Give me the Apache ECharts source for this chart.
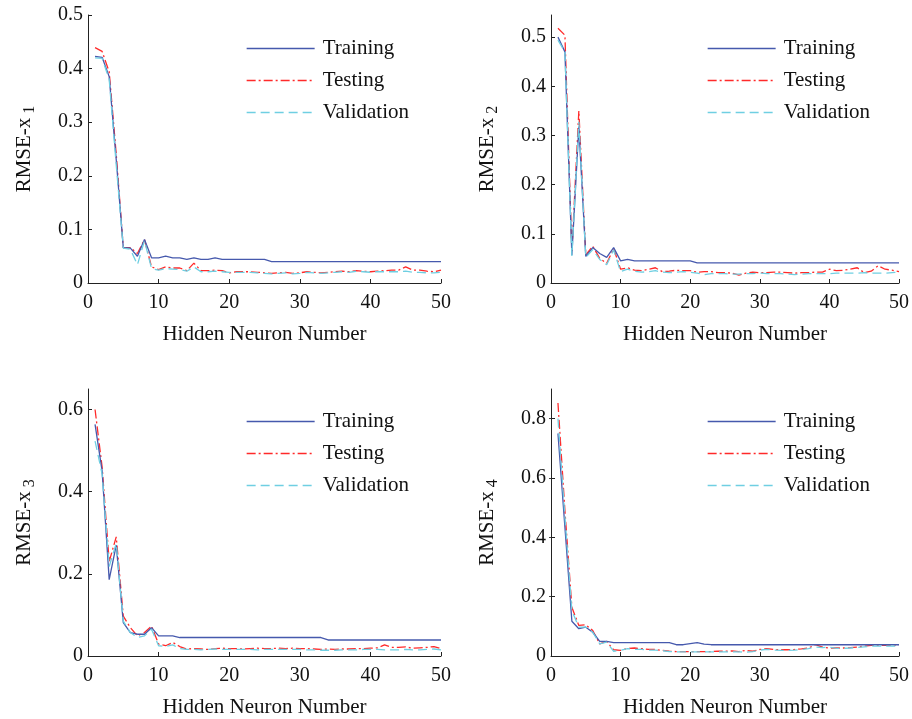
<!DOCTYPE html>
<html><head><meta charset="utf-8">
<script src="https://cdn.jsdelivr.net/npm/echarts@6/dist/echarts.min.js"></script>
<style>html,body{margin:0;padding:0;background:#fff}#c{width:912px;height:719px}</style>
</head><body><div id="c"></div>
<script>
var neurons = [1,2,3,4,5,6,7,8,9,10,11,12,13,14,15,16,17,18,19,20,21,22,23,24,25,26,27,28,29,30,31,32,33,34,35,36,37,38,39,40,41,42,43,44,45,46,47,48,49,50];
var seriesNames = ['Training','Testing','Validation'];
var yNames = ['1','2','3','4'];
var xTickLabels = [0,10,20,30,40,50];

var train1 = [0.423,0.421,0.385,0.23,0.066,0.065,0.05,0.081,0.047,0.047,0.05,0.047,0.047,0.044,0.047,0.044,0.044,0.047,0.044,0.044,0.044,0.044,0.044,0.044,0.044,0.04,0.04,0.04,0.04,0.04,0.04,0.04,0.04,0.04,0.04,0.04,0.04,0.04,0.04,0.04,0.04,0.04,0.04,0.04,0.04,0.04,0.04,0.04,0.04,0.04];
var test1 = [0.439,0.432,0.394,0.24,0.066,0.066,0.055,0.081,0.03,0.025,0.03,0.028,0.028,0.023,0.037,0.023,0.023,0.024,0.023,0.019,0.021,0.021,0.021,0.02,0.019,0.018,0.019,0.02,0.018,0.019,0.021,0.02,0.019,0.02,0.021,0.022,0.021,0.023,0.022,0.021,0.022,0.023,0.024,0.024,0.03,0.024,0.024,0.022,0.021,0.024];
var val1 = [0.42,0.419,0.38,0.22,0.065,0.063,0.034,0.079,0.027,0.024,0.027,0.026,0.025,0.022,0.03,0.021,0.021,0.022,0.021,0.02,0.02,0.02,0.02,0.019,0.018,0.017,0.018,0.019,0.017,0.018,0.02,0.019,0.018,0.019,0.02,0.021,0.02,0.022,0.021,0.02,0.021,0.021,0.021,0.021,0.022,0.02,0.02,0.019,0.019,0.02];

var train2 = [0.5,0.47,0.057,0.318,0.054,0.072,0.06,0.052,0.072,0.045,0.048,0.045,0.045,0.045,0.045,0.045,0.045,0.045,0.045,0.045,0.041,0.041,0.041,0.041,0.041,0.041,0.041,0.041,0.041,0.041,0.041,0.041,0.041,0.041,0.041,0.041,0.041,0.041,0.041,0.041,0.041,0.041,0.041,0.041,0.041,0.041,0.041,0.041,0.041,0.041];
var test2 = [0.518,0.504,0.065,0.35,0.057,0.075,0.05,0.04,0.07,0.028,0.031,0.026,0.025,0.028,0.031,0.023,0.024,0.026,0.025,0.025,0.022,0.023,0.023,0.021,0.021,0.02,0.016,0.02,0.022,0.021,0.021,0.022,0.022,0.021,0.02,0.021,0.021,0.022,0.022,0.028,0.025,0.026,0.028,0.031,0.021,0.024,0.035,0.028,0.026,0.023];
var val2 = [0.494,0.47,0.055,0.328,0.052,0.068,0.048,0.037,0.067,0.023,0.028,0.024,0.022,0.023,0.025,0.022,0.021,0.022,0.023,0.022,0.02,0.017,0.019,0.019,0.019,0.018,0.018,0.019,0.019,0.02,0.019,0.019,0.019,0.018,0.017,0.018,0.019,0.019,0.019,0.019,0.02,0.02,0.02,0.02,0.021,0.02,0.02,0.02,0.021,0.022];

var train3 = [0.564,0.45,0.186,0.27,0.081,0.057,0.053,0.053,0.069,0.049,0.049,0.049,0.045,0.045,0.045,0.045,0.045,0.045,0.045,0.045,0.045,0.045,0.045,0.045,0.045,0.045,0.045,0.045,0.045,0.045,0.045,0.045,0.045,0.039,0.039,0.039,0.039,0.039,0.039,0.039,0.039,0.039,0.039,0.039,0.039,0.039,0.039,0.039,0.039,0.039];
var test3 = [0.6,0.46,0.23,0.29,0.097,0.069,0.049,0.057,0.073,0.029,0.025,0.033,0.023,0.017,0.018,0.017,0.016,0.018,0.019,0.018,0.018,0.017,0.018,0.019,0.018,0.018,0.019,0.018,0.019,0.018,0.018,0.017,0.016,0.017,0.016,0.017,0.017,0.018,0.018,0.019,0.02,0.027,0.021,0.021,0.022,0.019,0.02,0.021,0.023,0.018];
var val3 = [0.523,0.443,0.218,0.274,0.085,0.057,0.045,0.049,0.065,0.025,0.023,0.027,0.018,0.016,0.016,0.015,0.016,0.017,0.016,0.016,0.016,0.016,0.016,0.015,0.016,0.016,0.016,0.016,0.016,0.016,0.015,0.015,0.014,0.014,0.014,0.015,0.015,0.015,0.016,0.016,0.016,0.015,0.015,0.015,0.016,0.015,0.015,0.016,0.017,0.015];

var train4 = [0.75,0.434,0.117,0.092,0.097,0.08,0.049,0.049,0.045,0.045,0.045,0.045,0.045,0.045,0.045,0.045,0.045,0.038,0.038,0.042,0.045,0.04,0.038,0.038,0.038,0.038,0.038,0.038,0.038,0.038,0.038,0.038,0.038,0.038,0.038,0.038,0.038,0.038,0.038,0.038,0.038,0.038,0.038,0.038,0.038,0.038,0.038,0.038,0.038,0.038];
var test4 = [0.853,0.49,0.164,0.103,0.105,0.086,0.041,0.049,0.021,0.019,0.025,0.027,0.025,0.022,0.022,0.019,0.016,0.015,0.015,0.015,0.015,0.015,0.015,0.016,0.016,0.017,0.015,0.019,0.016,0.022,0.025,0.022,0.021,0.021,0.022,0.024,0.027,0.038,0.03,0.027,0.027,0.027,0.028,0.03,0.033,0.036,0.036,0.036,0.036,0.038];
var val4 = [0.8,0.47,0.153,0.097,0.097,0.08,0.041,0.047,0.016,0.019,0.025,0.022,0.022,0.02,0.02,0.018,0.015,0.014,0.014,0.014,0.014,0.014,0.014,0.014,0.014,0.014,0.014,0.013,0.015,0.02,0.022,0.02,0.019,0.019,0.02,0.022,0.025,0.03,0.028,0.03,0.026,0.026,0.027,0.029,0.031,0.033,0.033,0.033,0.033,0.033];

var yTicks1 = [0,0.1,0.2,0.3,0.4,0.5];
var yTicks2 = [0,0.1,0.2,0.3,0.4,0.5];
var yTicks3 = [0,0.2,0.4,0.6];
var yTicks4 = [0,0.2,0.4,0.6,0.8];

var panels = [
  {train: train1, test: test1, val: val1, ticks: yTicks1, max: 0.5, step: 0.1, sub: yNames[0]},
  {train: train2, test: test2, val: val2, ticks: yTicks2, max: 0.545, step: 0.1, sub: yNames[1]},
  {train: train3, test: test3, val: val3, ticks: yTicks3, max: 0.65, step: 0.2, sub: yNames[2]},
  {train: train4, test: test4, val: val4, ticks: yTicks4, max: 0.9, step: 0.2, sub: yNames[3]}
];
var grids = [
  {left: 88, top: 15, width: 353, height: 268},
  {left: 551, top: 15, width: 350, height: 268},
  {left: 88, top: 389, width: 353, height: 268},
  {left: 551, top: 389, width: 350, height: 268}
];
var legendPos = [{left: 241, top: 33}, {left: 702, top: 33}, {left: 241, top: 406}, {left: 702, top: 406}];

var FONT = 'Liberation Serif';
var colors = {Training: '#4659ad', Testing: '#ff2a2a', Validation: '#6fcfe2'};
var dashes = {Training: 'solid', Testing: [9, 3, 2, 3], Validation: [9, 5]};

function pairs(arr) { return neurons.map(function (n, i) { return [n, arr[i]]; }); }

var option = {
  backgroundColor: '#fff',
  animation: false,
  grid: grids.map(function (g) { return Object.assign({containLabel: false}, g); }),
  legend: legendPos.map(function (p) {
    return {
      left: p.left, top: p.top, orient: 'vertical', itemWidth: 68, itemHeight: 14, itemGap: 11,
      data: seriesNames,
      itemStyle: {opacity: 0},
      lineStyle: {width: 1.3},
      textStyle: {fontFamily: FONT, fontSize: 21, color: '#111', padding: [0, 0, 0, 3]},
      selectedMode: false
    };
  }),
  xAxis: [],
  yAxis: [],
  series: []
};

panels.forEach(function (p, k) {
  option.xAxis.push({
    type: 'value', gridIndex: k, min: 0, max: 50, interval: 10,
    name: 'Hidden Neuron Number', nameLocation: 'middle', nameGap: 41,
    nameTextStyle: {fontFamily: FONT, fontSize: 21, color: '#111'},
    axisLine: {show: true, onZero: false, lineStyle: {color: '#222', width: 1}},
    axisTick: {show: true, inside: true, length: 4, lineStyle: {color: '#222'}},
    axisLabel: {fontFamily: FONT, fontSize: 20, color: '#111', margin: 10,
      customValues: xTickLabels},
    splitLine: {show: false}
  });
  option.yAxis.push({
    type: 'value', gridIndex: k, min: 0, max: p.max, interval: p.step,
    name: '{m|RMSE-x}{s|' + p.sub + '}', nameLocation: 'middle', nameRotate: 90, nameGap: 50,
    nameTextStyle: {fontFamily: FONT, fontSize: 21, color: '#111',
      rich: {
        m: {fontFamily: FONT, fontSize: 21, lineHeight: 24, color: '#111', verticalAlign: 'top'},
        s: {fontFamily: FONT, fontSize: 16, lineHeight: 16, color: '#111', verticalAlign: 'top', padding: [8, 0, 0, 4]}
      }},
    axisLine: {show: true, onZero: false, lineStyle: {color: '#222', width: 1}},
    axisTick: {show: true, inside: true, length: 4, lineStyle: {color: '#222'}, customValues: p.ticks},
    axisLabel: {fontFamily: FONT, fontSize: 20, color: '#111', margin: 5, customValues: p.ticks},
    splitLine: {show: false}
  });
  [['Training', p.train], ['Testing', p.test], ['Validation', p.val]].forEach(function (s) {
    option.series.push({
      type: 'line', name: s[0], xAxisIndex: k, yAxisIndex: k,
      data: pairs(s[1]), symbol: 'none', showSymbol: false,
      lineStyle: {color: colors[s[0]], width: 1.3, type: dashes[s[0]]},
      itemStyle: {color: colors[s[0]]},
      z: s[0] === 'Training' ? 3 : (s[0] === 'Testing' ? 2 : 4)
    });
  });
});

// right-side inner ticks on the last panel
option.yAxis.push({
  type: 'value', gridIndex: 3, min: 0, max: 0.9, interval: 0.2, position: 'right',
  axisLine: {show: false}, axisLabel: {show: false}, splitLine: {show: false},
  axisTick: {show: true, inside: true, length: 2, lineStyle: {color: '#444'}, customValues: [0.2, 0.4, 0.6, 0.8]}
});

var chart = echarts.init(document.getElementById('c'), null, {renderer: 'canvas'});
chart.setOption(option);
</script>
</body></html>
